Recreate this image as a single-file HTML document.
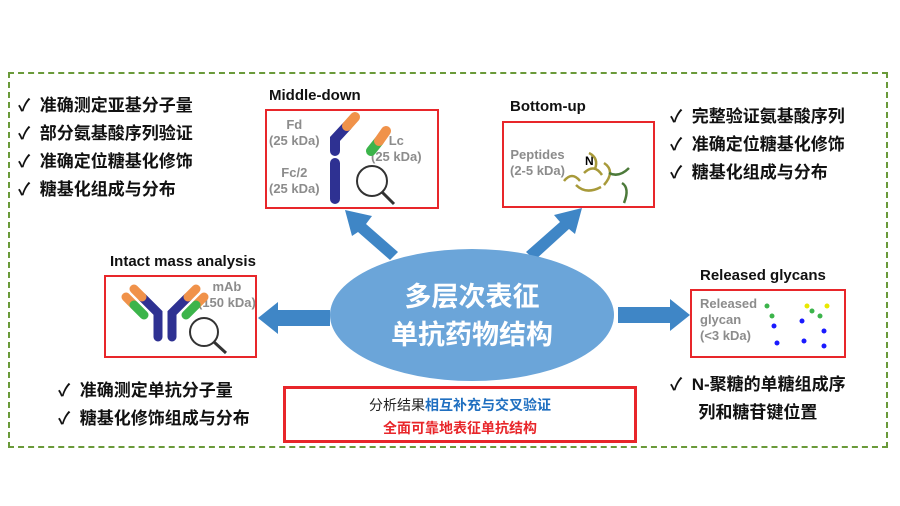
<!DOCTYPE html>
<html><head><meta charset="utf-8"><style>
body{margin:0;width:900px;height:506px;background:#fff;position:relative;overflow:hidden;font-family:"Liberation Sans","Noto Sans CJK SC",sans-serif}
.a{position:absolute;white-space:nowrap}
.li{font-size:17px;font-weight:bold;color:#111}
.t{font-size:15px;font-weight:bold;color:#111}
.box{position:absolute;border:2px solid #e8262a;box-sizing:border-box}
.g{color:#8c8c8c;font-weight:bold;font-size:13px;line-height:16px;position:absolute;text-align:center;white-space:nowrap}
</style></head><body>
<div class="a" style="left:8px;top:72px;width:880px;height:376px;border:2px dashed #6a9a3a;box-sizing:border-box"></div>

<div class="a li" style="left:18px;top:92px;line-height:28px">✓&nbsp; 准确测定亚基分子量<br>✓&nbsp; 部分氨基酸序列验证<br>✓&nbsp; 准确定位糖基化修饰<br>✓&nbsp; 糖基化组成与分布</div>
<div class="a li" style="left:670px;top:103px;line-height:28px">✓&nbsp; 完整验证氨基酸序列<br>✓&nbsp; 准确定位糖基化修饰<br>✓&nbsp; 糖基化组成与分布</div>
<div class="a li" style="left:58px;top:377px;line-height:28px">✓&nbsp; 准确测定单抗分子量<br>✓&nbsp; 糖基化修饰组成与分布</div>
<div class="a li" style="left:670px;top:371px;line-height:28px">✓&nbsp; N-聚糖的单糖组成序<br>&nbsp;&nbsp;&nbsp;&nbsp;&nbsp; 列和糖苷键位置</div>

<div class="a t" style="left:269px;top:87px">Middle-down</div>
<div class="a t" style="left:510px;top:98px">Bottom-up</div>
<div class="a t" style="left:110px;top:253px">Intact mass analysis</div>
<div class="a t" style="left:700px;top:267px">Released glycans</div>

<div class="box" style="left:265px;top:109px;width:174px;height:100px">
<div class="g" style="left:2px;top:6px">Fd<br>(25 kDa)</div>
<div class="g" style="left:104px;top:22px">Lc<br>(25 kDa)</div>
<div class="g" style="left:2px;top:54px">Fc/2<br>(25 kDa)</div>
<svg class="a" style="left:0;top:0" width="172" height="98">
<path d="M68 40 L68 28 L80 15" stroke="#2e3192" stroke-width="10" fill="none" stroke-linecap="round"/>
<path d="M80 15 L88 6" stroke="#f0924a" stroke-width="10" stroke-linecap="round"/>
<path d="M62 40 L70 30" stroke="#3cb44b" stroke-width="10" stroke-linecap="round" transform="translate(42,0)"/>
<path d="M70 30 L77 20" stroke="#f0924a" stroke-width="10" stroke-linecap="round" transform="translate(42,0)"/>
<line x1="68" y1="52" x2="68" y2="88" stroke="#2e3192" stroke-width="10" stroke-linecap="round"/>
<circle cx="105" cy="70" r="15" fill="none" stroke="#333" stroke-width="2"/>
<line x1="115" y1="81" x2="127" y2="93" stroke="#333" stroke-width="3"/>
</svg></div>

<div class="box" style="left:502px;top:121px;width:153px;height:87px">
<div class="g" style="left:6px;top:24px;font-size:13px">Peptides<br>(2-5 kDa)</div>
<svg class="a" style="left:0;top:0" width="150" height="85">
<text x="81" y="42" font-size="12" font-weight="bold">N</text>
<path d="M60 58 q8-10 16 0 M80 50 q10-10 18 2 M85 30 q10 5 6 16 M100 40 q12 8 0 22 M72 62 q10 10 25 2" stroke="#a89a3a" stroke-width="2.5" fill="none"/>
<path d="M105 50 q10 5 20 -5 M118 60 q8 5 2 20" stroke="#4c7a3a" stroke-width="2.5" fill="none"/>
</svg></div>

<div class="box" style="left:104px;top:275px;width:153px;height:83px">
<div class="g" style="left:92px;top:2px">mAb<br>(150 kDa)</div>
<svg class="a" style="left:0;top:0" width="150" height="80">
<path d="M52 60 L52 36 L36 20 M66 60 L66 36 L82 20" stroke="#2e3192" stroke-width="9" fill="none" stroke-linecap="round"/>
<path d="M36 20 L28 12 M82 20 L90 12" stroke="#f0924a" stroke-width="9" stroke-linecap="round"/>
<path d="M28 28 L20 20 M90 28 L98 20" stroke="#f0924a" stroke-width="9" stroke-linecap="round"/>
<path d="M38 38 L28 28 M80 38 L90 28" stroke="#3cb44b" stroke-width="9" stroke-linecap="round"/>
<circle cx="98" cy="55" r="14" fill="none" stroke="#333" stroke-width="2"/>
<line x1="108" y1="65" x2="120" y2="76" stroke="#333" stroke-width="3"/>
</svg></div>

<div class="box" style="left:690px;top:289px;width:156px;height:69px">
<div class="g" style="left:8px;top:5px;text-align:left;font-size:13px">Released<br>glycan<br>(&lt;3 kDa)</div>
<svg class="a" style="left:0;top:0" width="154" height="67">
<g fill="#1a1aff"><circle cx="82" cy="35" r="2.5"/><circle cx="85" cy="52" r="2.5"/><circle cx="110" cy="30" r="2.5"/><circle cx="112" cy="50" r="2.5"/><circle cx="132" cy="40" r="2.5"/><circle cx="132" cy="55" r="2.5"/></g>
<g fill="#3cb44b"><circle cx="75" cy="15" r="2.5"/><circle cx="80" cy="25" r="2.5"/><circle cx="120" cy="20" r="2.5"/><circle cx="128" cy="25" r="2.5"/></g>
<g fill="#e8e800"><circle cx="115" cy="15" r="2.5"/><circle cx="135" cy="15" r="2.5"/></g>
</svg></div>

<svg class="a" style="left:0;top:0" width="900" height="506">
<g fill="#3f86c6">
<polygon points="330,310 278,310 278,302 258,318 278,334 278,326 330,326"/>
<polygon points="618,307 670,307 670,299 690,315 670,331 670,323 618,323"/>
<polygon points="398,252 366,224 372,216 345,210 352,236 358,232 390,260"/>
<polygon points="526,252 560,222 554,215 582,208 575,234 569,229 535,260"/>
</g>
<ellipse cx="472" cy="315" rx="142" ry="66" fill="#6ba5d9"/>
</svg>
<div class="a" style="left:330px;top:278px;width:284px;text-align:center;color:#fff;font-size:27px;font-weight:bold;line-height:38px">多层次表征<br>单抗药物结构</div>

<div class="box" style="left:283px;top:386px;width:354px;height:57px;border-width:3px;text-align:center;font-size:14px;line-height:23px;padding-top:5px">
<span style="color:#222">分析结果</span><span style="color:#1f6fc0;font-weight:bold">相互补充与交叉验证</span><br><span style="color:#e8262a;font-weight:bold">全面可靠地表征单抗结构</span></div>
</body></html>
